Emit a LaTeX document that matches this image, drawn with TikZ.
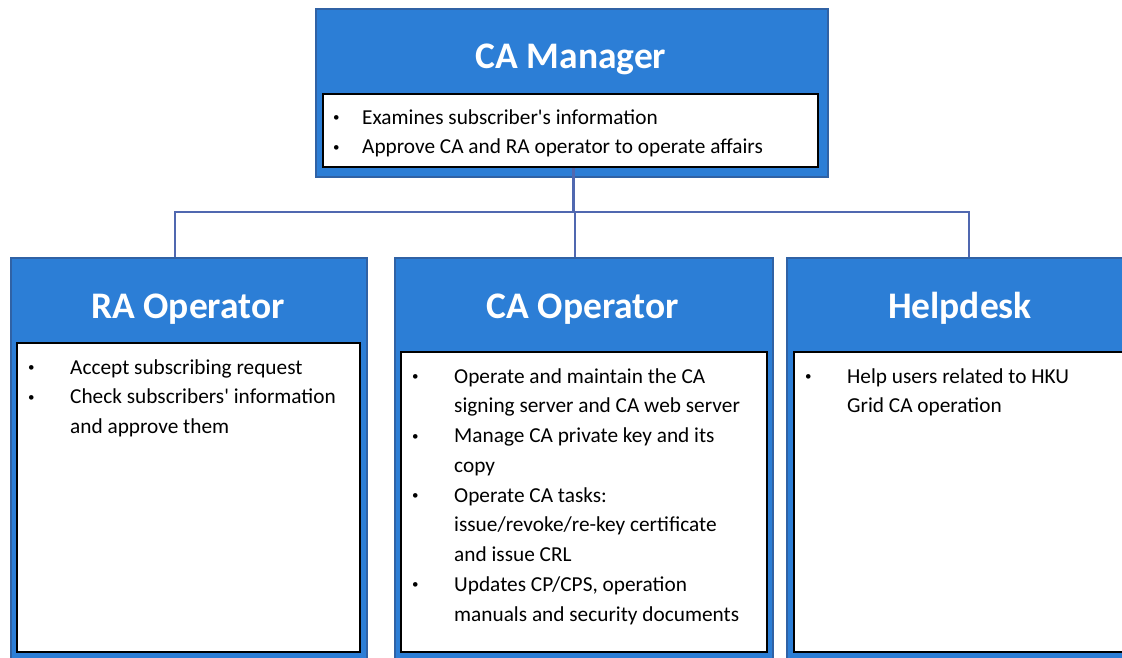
\documentclass[tikz,border=0pt]{standalone}
\usepackage{fontspec}
\setmainfont{Carlito}[Ligatures=TeXOff]
\usepackage{array}
\definecolor{boxblue}{RGB}{44,126,214}
\definecolor{boxedge}{RGB}{48,98,165}
\definecolor{linkblue}{RGB}{80,104,176}
\newcommand\bul{\hspace*{2pt}\raisebox{2.5pt}{\fontsize{13}{13}\selectfont\textbullet}}
\begin{document}
\begin{tikzpicture}[x=1pt,y=-1pt,
  outerbox/.style={draw=boxedge, line width=2pt, fill=boxblue, anchor=north west, inner sep=0pt},
  innerbox/.style={draw=black, line width=2pt, fill=white, anchor=north west, inner sep=0pt},
  titletext/.style={text=white, font=\fontsize{37.5}{40}\selectfont\bfseries, anchor=base, inner sep=0pt},
  itemtext/.style={anchor=north west, inner sep=0pt, align=left, font=\fontsize{21.3}{29.75}\selectfont},
  link/.style={draw=linkblue, line width=2.5pt}]
\useasboundingbox (0,0) rectangle (1122,657);
\clip (0,0) rectangle (1122,657);

\coordinate (bus) at (0,212);
\node[outerbox, minimum width=512pt, minimum height=168pt] (mgr) at (315,8) {};
\node[outerbox, minimum width=356pt, minimum height=430pt] (ra) at (10,257) {};
\node[outerbox, minimum width=378pt, minimum height=430pt] (cao) at (394,257) {};
\node[outerbox, minimum width=370pt, minimum height=430pt] (help) at (786,257) {};

\node[innerbox, minimum width=495pt, minimum height=73pt] (mgrin) at (322,93) {};
\node[innerbox, minimum width=343pt, minimum height=309pt] (rain) at (16,342) {};
\node[innerbox, minimum width=366pt, minimum height=300pt] (caoin) at (400,351) {};
\node[innerbox, minimum width=360pt, minimum height=300pt] (helpin) at (793,351) {};

% connectors
\draw[link] ([xshift=3pt]mgrin.south) -- ([xshift=3pt]mgrin.south |- bus)
  -| ([xshift=-14pt]ra.north);
\draw[link] ([xshift=3pt]mgrin.south |- bus) -| ([xshift=-9pt]cao.north);
\draw[link] ([xshift=3pt]mgrin.south |- bus) -| ([xshift=-3pt]help.north);

% titles
\node[titletext] (mgrt) at (571,68) {CA Manager};
\node[titletext] (rat) at (188,318) {RA Operator};
\node[titletext] (caot) at (583,318) {CA Operator};
\node[titletext] (helpt) at (960,318) {Helpdesk};

% items
\node[itemtext] (mgri) at (331,103) {\begin{tabular}{@{}p{31pt}@{}l@{}}
\bul & Examines subscriber's information\\
\bul & Approve CA and RA operator to operate affairs
\end{tabular}};
\node[itemtext] (rai) at (26,353) {\begin{tabular}{@{}p{44pt}@{}l@{}}
\bul & Accept subscribing request\\
\bul & Check subscribers' information\\
 & and approve them
\end{tabular}};
\node[itemtext] (caoi) at (410,362) {\begin{tabular}{@{}p{44pt}@{}l@{}}
\bul & Operate and maintain the CA\\
 & signing server and CA web server\\
\bul & Manage CA private key and its\\
 & copy\\
\bul & Operate CA tasks:\\
 & issue/revoke/re-key certificate\\
 & and issue CRL\\
\bul & Updates CP/CPS, operation\\
 & manuals and security documents
\end{tabular}};
\node[itemtext] (helpi) at (803,362) {\begin{tabular}{@{}p{44pt}@{}l@{}}
\bul & Help users related to HKU\\
 & Grid CA operation
\end{tabular}};
\end{tikzpicture}
\end{document}
